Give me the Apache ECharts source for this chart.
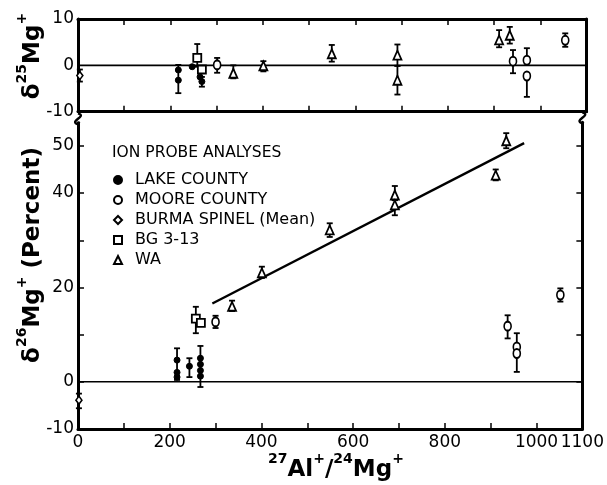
<!DOCTYPE html>
<html><head><meta charset="utf-8">
<script src="https://cdn.jsdelivr.net/npm/echarts@6/dist/echarts.min.js"></script>
<style>html,body{margin:0;padding:0;background:#fff}#c{width:607px;height:485px}</style>
</head><body><div id="c"></div>
<script>
// ---------- axis ticks / labels ----------
const xTicks = [0,100,200,300,400,500,600,700,800,900,1000,1100];
const xTickLabels = [0,200,400,600,800,1000,1100];
const topYLabels = [-10,0,10];
const bottomYTicks = [-10,0,10,20,30,40,50];
const bottomYLabels = [-10,0,20,40,50];

// ---------- delta 25Mg (top panel) ----------
const lake25X = [217, 217, 247, 264, 268];
const lake25Y = [-1.0, -3.2, -0.3, -2.5, -3.5];
const lake25Lo = [-6.0, null, null, null, -4.6];
const lake25Hi = [0.1, null, null, null, -2.5];

const moore25X = [301, 941, 971, 971, 1054];
const moore25Y = [0.1, 0.9, 1.1, -2.3, 5.4];
const moore25Lo = [-1.6, -1.7, 1.1, -6.8, 4.0];
const moore25Hi = [1.6, 3.3, 3.7, -2.3, 6.9];

const burma25X = [4];
const burma25Y = [-2.2];
const burma25Lo = [-3.5];
const burma25Hi = [-0.9];

const bg25X = [258, 268];
const bg25Y = [1.6, -0.9];
const bg25Lo = [-0.3, null];
const bg25Hi = [4.6, null];

const wa25X = [336, 401, 549, 691, 691, 911, 934];
const wa25Y = [-1.7, -0.1, 2.5, 2.2, -3.2, 5.5, 6.5];
const wa25Lo = [-2.8, -1.3, 0.8, -0.1, -6.3, 3.9, 4.7];
const wa25Hi = [0.0, 0.9, 4.4, 4.5, -0.1, 7.6, 8.3];

// ---------- delta 26Mg (bottom panel) ----------
const lake26X = [216, 216, 216, 243, 267, 267, 267, 267];
const lake26Y = [4.6, 2.0, 1.0, 3.3, 5.0, 3.7, 2.4, 1.2];
const lake26Lo = [0.4, null, null, 1.0, -1.1, null, null, null];
const lake26Hi = [7.1, null, null, 5.0, 7.6, null, null, null];

const moore26X = [300, 937, 957, 957, 1052];
const moore26Y = [12.7, 11.8, 7.4, 6.0, 18.4];
const moore26Lo = [11.4, 9.2, 2.1, null, 17.0];
const moore26Hi = [14.0, 14.1, 10.3, null, 19.8];

const burma26X = [2];
const burma26Y = [-3.9];
const burma26Lo = [-5.6];
const burma26Hi = [-2.5];

const bg26X = [257, 268];
const bg26Y = [13.4, 12.5];
const bg26Lo = [10.3, null];
const bg26Hi = [15.9, null];

const wa26X = [336, 401, 549, 691, 691, 911, 934];
const wa26Y = [16.0, 23.1, 32.2, 39.6, 37.5, 43.8, 51.1];
const wa26Lo = [15.0, 22.0, 30.7, 38.5, 35.3, 42.7, 49.5];
const wa26Hi = [17.2, 24.4, 33.6, 41.5, 38.5, 45.0, 52.7];

// fitted isochron line
const fitX = [293, 973];
const fitY = [16.6, 50.6];

const seriesNames = ['LAKE COUNTY','MOORE COUNTY','BURMA SPINEL (Mean)','BG 3-13','WA'];

// ---------- build ----------
const FONT = 'DejaVu Sans';
const pts = (xs, ys) => xs.map((x,i)=>[x, ys[i]]);
const errs = (xs, ys, lo, hi) => xs.map((x,i)=>[x, ys[i], lo[i], hi[i]]).filter(d=>d[2]!=null && d[3]!=null);

function errRender(params, api){
  const x = api.value(0), lo = api.value(2), hi = api.value(3);
  const a = api.coord([x, lo]), b = api.coord([x, hi]);
  const st = {stroke:'#000', lineWidth:1.8};
  const c = 3;
  return {type:'group', children:[
    {type:'line', shape:{x1:a[0],y1:a[1],x2:b[0],y2:b[1]}, style:st},
    {type:'line', shape:{x1:a[0]-c,y1:a[1],x2:a[0]+c,y2:a[1]}, style:st},
    {type:'line', shape:{x1:b[0]-c,y1:b[1],x2:b[0]+c,y2:b[1]}, style:st}
  ]};
}
function errSeries(data, xi, yi){
  return {type:'custom', xAxisIndex:xi, yAxisIndex:yi, renderItem:errRender, data:data, z:2, silent:true};
}
const styles = {
  'LAKE COUNTY': {symbol:'circle', symbolSize:6, itemStyle:{color:'#000', borderColor:'#000', borderWidth:1, opacity:1}},
  'MOORE COUNTY': {symbol:'circle', symbolSize:[7,9], itemStyle:{color:'#fff', borderColor:'#000', borderWidth:1.8, opacity:1}},
  'BURMA SPINEL (Mean)': {symbol:'diamond', symbolSize:[6,8], itemStyle:{color:'#fff', borderColor:'#000', borderWidth:1.6, opacity:1}},
  'BG 3-13': {symbol:'rect', symbolSize:8, itemStyle:{color:'#fff', borderColor:'#000', borderWidth:1.8, opacity:1}},
  'WA': {symbol:'triangle', symbolSize:[8,9], itemStyle:{color:'#fff', borderColor:'#000', borderWidth:1.8, opacity:1}}
};
function sc(name, data, xi, yi){
  return Object.assign({type:'scatter', name:name, xAxisIndex:xi, yAxisIndex:yi, data:data, z:5, silent:true}, styles[name]);
}

const topSets = [
  ['LAKE COUNTY', lake25X, lake25Y, lake25Lo, lake25Hi],
  ['MOORE COUNTY', moore25X, moore25Y, moore25Lo, moore25Hi],
  ['BURMA SPINEL (Mean)', burma25X, burma25Y, burma25Lo, burma25Hi],
  ['BG 3-13', bg25X, bg25Y, bg25Lo, bg25Hi],
  ['WA', wa25X, wa25Y, wa25Lo, wa25Hi]
];
const botSets = [
  ['LAKE COUNTY', lake26X, lake26Y, lake26Lo, lake26Hi],
  ['MOORE COUNTY', moore26X, moore26Y, moore26Lo, moore26Hi],
  ['BURMA SPINEL (Mean)', burma26X, burma26Y, burma26Lo, burma26Hi],
  ['BG 3-13', bg26X, bg26Y, bg26Lo, bg26Hi],
  ['WA', wa26X, wa26Y, wa26Lo, wa26Hi]
];

const series = [];
// zero lines
series.push({type:'line', xAxisIndex:0, yAxisIndex:0, data:[[0,0],[1100,0]], symbol:'none', lineStyle:{color:'#000', width:1.6}, silent:true, z:1});
series.push({type:'line', xAxisIndex:2, yAxisIndex:2, data:[[0,0],[1100,0]], symbol:'none', lineStyle:{color:'#000', width:1.6}, silent:true, z:1});
// fit line
series.push({type:'line', xAxisIndex:2, yAxisIndex:2, data:pts(fitX, fitY), symbol:'none', lineStyle:{color:'#000', width:2.4}, silent:true, z:1});
topSets.forEach(s=>{ series.push(errSeries(errs(s[1],s[2],s[3],s[4]),0,0)); series.push(sc(s[0], pts(s[1],s[2]),0,0)); });
botSets.forEach(s=>{ series.push(errSeries(errs(s[1],s[2],s[3],s[4]),2,2)); series.push(sc(s[0], pts(s[1],s[2]),2,2)); });

const axisLine = {show:true, onZero:false, lineStyle:{color:'#000', width:3}};
const tickIn = (vals)=>({show:true, inside:true, length:6, lineStyle:{color:'#000', width:1.5}, customValues:vals});
const labelStyle = {color:'#000', fontFamily:FONT, fontSize:17, formatter:(v)=>String(v)};

const GL = 78, GW = 508.5;
const option = {
  animation:false,
  backgroundColor:'#fff',
  title:{text:'ION PROBE ANALYSES', left:112, top:145, padding:0,
    textStyle:{fontFamily:FONT, fontSize:15.5, fontWeight:'normal', color:'#000'}},
  legend:{orient:'vertical', left:113, top:172, padding:0, itemGap:4, itemWidth:8, itemHeight:8,
    data:seriesNames, selectedMode:false,
    textStyle:{fontFamily:FONT, fontSize:16, color:'#000', lineHeight:16, padding:[0,0,0,8]}},
  grid:[
    {left:GL, top:19, width:GW, height:92.7},
    {left:GL, top:122.3, width:GW, height:306.7}
  ],
  xAxis:[
    {type:'value', gridIndex:0, position:'bottom', min:0, max:1100, interval:100, axisLine:axisLine, axisTick:tickIn(xTicks), axisLabel:{show:false}, splitLine:{show:false}},
    {type:'value', gridIndex:0, position:'top', min:0, max:1100, interval:100, axisLine:axisLine, axisTick:tickIn(xTicks), axisLabel:{show:false}, splitLine:{show:false}},
    {type:'value', gridIndex:1, position:'bottom', min:0, max:1100, interval:100, axisLine:axisLine, axisTick:tickIn(xTicks),
      axisLabel:Object.assign({show:true, margin:5, customValues:xTickLabels, showMaxLabel:true}, labelStyle), splitLine:{show:false}}
  ],
  yAxis:[
    {type:'value', gridIndex:0, position:'left', min:-10, max:10, interval:10, axisLine:axisLine, axisTick:{show:false},
      axisLabel:Object.assign({show:true, margin:4, customValues:topYLabels}, labelStyle), splitLine:{show:false}},
    {type:'value', gridIndex:0, position:'right', min:-10, max:10, interval:10, axisLine:axisLine, axisTick:{show:false}, axisLabel:{show:false}, splitLine:{show:false}},
    {type:'value', gridIndex:1, position:'left', min:-10, max:55, interval:10, axisLine:axisLine, axisTick:tickIn(bottomYTicks),
      axisLabel:Object.assign({show:true, margin:4, customValues:bottomYLabels}, labelStyle), splitLine:{show:false}},
    {type:'value', gridIndex:1, position:'right', min:-10, max:55, interval:10, axisLine:axisLine, axisTick:tickIn(bottomYTicks), axisLabel:{show:false}, splitLine:{show:false}}
  ],
  series:series
};

const chart = echarts.init(document.getElementById('c'), null, {renderer:'canvas'});
chart.setOption(option);

// titles and break marks
const tl = chart.convertToPixel({xAxisIndex:2, yAxisIndex:2}, [0, 55]);
const tr = chart.convertToPixel({xAxisIndex:2, yAxisIndex:2}, [1100, 55]);
const richSup = {
  s:{fontSize:14, fontWeight:'bold', fontFamily:FONT, lineHeight:14, verticalAlign:'top'},
  m:{fontSize:23, fontWeight:'bold', fontFamily:FONT, lineHeight:29, verticalAlign:'bottom'}
};
const brk = (x,y)=>({type:'bezierCurve', shape:{x1:x, y1:y-6, x2:x, y2:y+5, cpx1:x+10, cpy1:y-3, cpx2:x-10, cpy2:y+2},
  style:{stroke:'#000', lineWidth:2.4, fill:null}, silent:true});
chart.setOption({graphic:[
  {type:'rect', shape:{x:tl[0]-3, y:tl[1]-9, width:6, height:8}, style:{fill:'#fff'}, silent:true, z:50},
  Object.assign(brk(tl[0], tl[1]-3), {z:51}),
  Object.assign(brk(tr[0], tr[1]-4), {z:51}),
  {type:'text', x:30, y:56, rotation:Math.PI/2, silent:true,
    style:{text:'{m|δ}{s|25}{m|Mg}{s|+}', rich:richSup, align:'center', verticalAlign:'middle', fill:'#000'}},
  {type:'text', x:30, y:255, rotation:Math.PI/2, silent:true,
    style:{text:'{m|δ}{s|26}{m|Mg}{s|+}{m| (Percent)}', rich:richSup, align:'center', verticalAlign:'middle', fill:'#000'}},
  {type:'text', x:336, y:467, silent:true,
    style:{text:'{s|27}{m|Al}{s|+}{m|/}{s|24}{m|Mg}{s|+}', rich:richSup, align:'center', verticalAlign:'middle', fill:'#000'}}
]});
</script>
</body></html>
